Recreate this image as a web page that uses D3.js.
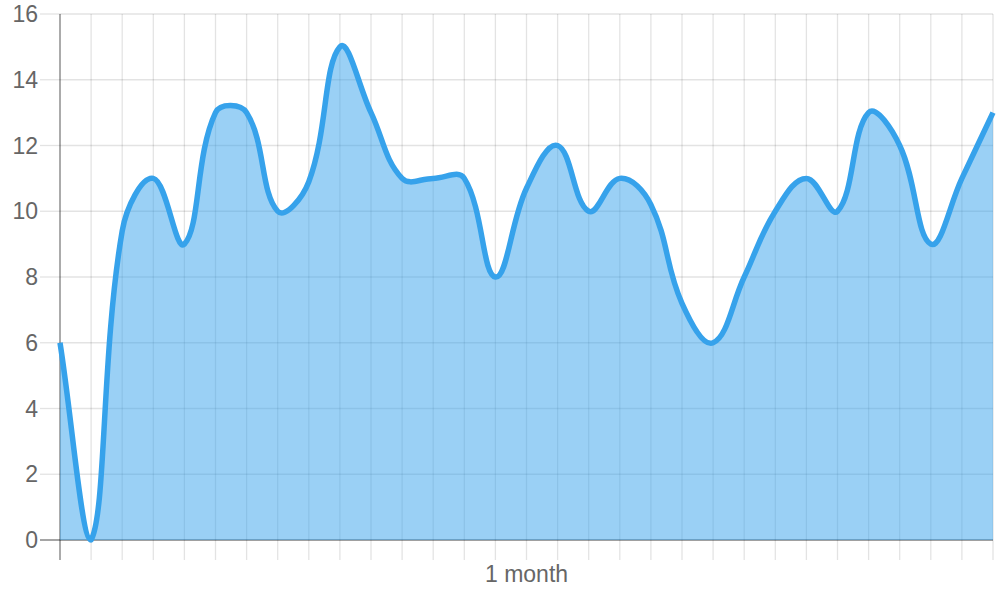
<!DOCTYPE html>
<html>
<head>
<meta charset="utf-8">
<script src="https://cdn.jsdelivr.net/npm/d3@7"></script>
<style>
  html, body { margin: 0; padding: 0; background: #fff; }
  svg { display: block; font-family: "Liberation Sans", Arial, sans-serif; }
</style>
</head>
<body>
<svg id="chart" width="1000" height="600"></svg>
<script>
// ---- data ----
const days = d3.range(31);
const values = [6, 0, 9.4, 11, 9, 13, 13, 10, 10.9, 15, 13, 11, 11, 11, 8, 10.7, 12, 10, 11, 10.2, 7.2, 6, 8, 10, 11, 10, 13, 12, 9, 11, 13];
const yTicks = [0, 2, 4, 6, 8, 10, 12, 14, 16];
const xLabels = days.map(d => d === 15 ? "1 month" : "");

// ---- layout ----
const mLeft = 60, mRight = 993, mTop = 14, mBottom = 540;
const svg = d3.select("#chart");
const x = d3.scalePoint().domain(days).range([mLeft, mRight]);
const y = d3.scaleLinear().domain([0, 16]).range([mBottom, mTop]);

const gridColor = "rgba(0,0,0,0.11)";
const axisColor = "rgba(0,0,0,0.28)";
const gridWidth = 1.3;
const fontSize = 23;

// horizontal gridlines (with 20px tick extension to the left)
const gY = svg.append("g").attr("transform", `translate(${mLeft},0)`)
  .call(d3.axisLeft(y).tickValues(yTicks).tickSize(20).tickPadding(2).tickSizeOuter(0).offset(0));
gY.select(".domain").remove();
gY.selectAll(".tick line").attr("stroke", d => d === 0 ? axisColor : gridColor).attr("stroke-width", gridWidth);
gY.selectAll(".tick").append("line")
  .attr("x1", 0).attr("x2", mRight - mLeft)
  .attr("stroke", d => d === 0 ? axisColor : gridColor).attr("stroke-width", gridWidth);
gY.selectAll(".tick text")
  .attr("fill", "#666").attr("font-size", fontSize).attr("dy", null).attr("y", 8);

// vertical gridlines (with 20px tick extension below)
const gX = svg.append("g").attr("transform", `translate(0,${mBottom})`)
  .call(d3.axisBottom(x).tickSize(20).tickSizeOuter(0).offset(0).tickFormat(d => xLabels[d]));
gX.select(".domain").remove();
gX.selectAll(".tick line").attr("stroke", d => d === 0 ? axisColor : gridColor).attr("stroke-width", gridWidth);
gX.selectAll(".tick").append("line")
  .attr("y1", 0).attr("y2", mTop - mBottom)
  .attr("stroke", d => d === 0 ? axisColor : gridColor).attr("stroke-width", gridWidth);
gX.selectAll(".tick text")
  .attr("fill", "#666").attr("font-size", fontSize).attr("dy", null).attr("y", 42);

// axis lines on top of gridlines
svg.append("line").attr("x1", mLeft - 20).attr("x2", mRight).attr("y1", y(0)).attr("y2", y(0))
  .attr("stroke", axisColor).attr("stroke-width", gridWidth);
svg.append("line").attr("x1", mLeft).attr("x2", mLeft).attr("y1", mTop).attr("y2", mBottom + 20)
  .attr("stroke", axisColor).attr("stroke-width", gridWidth);

// ---- Chart.js style spline (tension 0.4), control points capped to the chart area ----
const pts = values.map((v, i) => ({ x: x(i), y: y(v) }));
const tension = 0.4;
const clampX = v => Math.max(mLeft, Math.min(mRight, v));
const clampY = v => Math.max(mTop, Math.min(mBottom, v));
pts.forEach((p, i) => {
  const prev = pts[i - 1] || p, next = pts[i + 1] || p;
  const d01 = Math.hypot(p.x - prev.x, p.y - prev.y);
  const d12 = Math.hypot(next.x - p.x, next.y - p.y);
  let s01 = d01 / (d01 + d12), s12 = d12 / (d01 + d12);
  if (isNaN(s01)) s01 = 0; if (isNaN(s12)) s12 = 0;
  const fa = tension * s01, fb = tension * s12;
  p.cpPrev = { x: clampX(p.x - fa * (next.x - prev.x)), y: clampY(p.y - fa * (next.y - prev.y)) };
  p.cpNext = { x: clampX(p.x + fb * (next.x - prev.x)), y: clampY(p.y + fb * (next.y - prev.y)) };
});
function curvePath(path) {
  path.moveTo(pts[0].x, pts[0].y);
  for (let i = 1; i < pts.length; i++) {
    const a = pts[i - 1], b = pts[i];
    path.bezierCurveTo(a.cpNext.x, a.cpNext.y, b.cpPrev.x, b.cpPrev.y, b.x, b.y);
  }
  return path;
}
const areaPath = curvePath(d3.path());
areaPath.lineTo(pts[pts.length - 1].x, y(0));
areaPath.lineTo(pts[0].x, y(0));
areaPath.closePath();

svg.append("path").attr("d", areaPath.toString())
  .attr("fill", "rgba(54,162,235,0.5)").attr("stroke", "none");
svg.append("path").attr("d", curvePath(d3.path()).toString())
  .attr("fill", "none").attr("stroke", "rgb(54,162,235)").attr("stroke-width", 5.5)
  .attr("stroke-linejoin", "round");
</script>
</body>
</html>
